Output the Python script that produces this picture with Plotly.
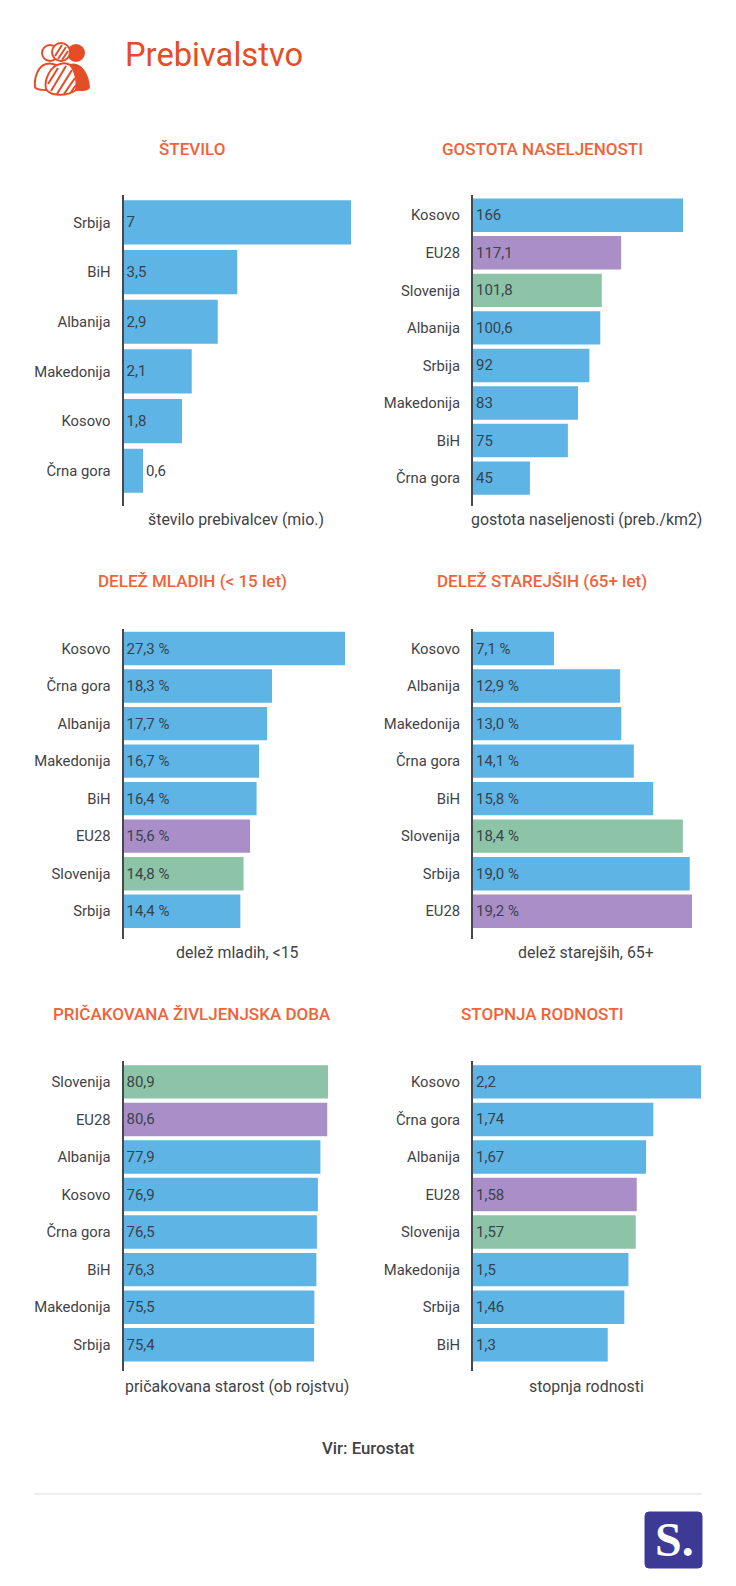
import plotly.graph_objects as go

W, H = 736, 1586
FONT = "Roboto"
BLUE, PURPLE, GREEN = "#5db4e5", "#aa8ec8", "#8dc3a7"
ORANGE = "#f0633a"
DARK = "#e44d26"
TEXT = "#3f4348"

# ---------- data ----------
stevilo_names = ["Srbija", "BiH", "Albanija", "Makedonija", "Kosovo", "Črna gora"]
stevilo_values = [7, 3.5, 2.9, 2.1, 1.8, 0.6]
stevilo_labels = ["7", "3,5", "2,9", "2,1", "1,8", "0,6"]

gostota_names = ["Kosovo", "EU28", "Slovenija", "Albanija", "Srbija", "Makedonija", "BiH", "Črna gora"]
gostota_values = [166, 117.1, 101.8, 100.6, 92, 83, 75, 45]
gostota_labels = ["166", "117,1", "101,8", "100,6", "92", "83", "75", "45"]

mladi_names = ["Kosovo", "Črna gora", "Albanija", "Makedonija", "BiH", "EU28", "Slovenija", "Srbija"]
mladi_values = [27.3, 18.3, 17.7, 16.7, 16.4, 15.6, 14.8, 14.4]
mladi_labels = ["27,3 %", "18,3 %", "17,7 %", "16,7 %", "16,4 %", "15,6 %", "14,8 %", "14,4 %"]

starejsi_names = ["Kosovo", "Albanija", "Makedonija", "Črna gora", "BiH", "Slovenija", "Srbija", "EU28"]
starejsi_values = [7.1, 12.9, 13.0, 14.1, 15.8, 18.4, 19.0, 19.2]
starejsi_labels = ["7,1 %", "12,9 %", "13,0 %", "14,1 %", "15,8 %", "18,4 %", "19,0 %", "19,2 %"]

doba_names = ["Slovenija", "EU28", "Albanija", "Kosovo", "Črna gora", "BiH", "Makedonija", "Srbija"]
doba_values = [80.9, 80.6, 77.9, 76.9, 76.5, 76.3, 75.5, 75.4]
doba_labels = ["80,9", "80,6", "77,9", "76,9", "76,5", "76,3", "75,5", "75,4"]

rodnost_names = ["Kosovo", "Črna gora", "Albanija", "EU28", "Slovenija", "Makedonija", "Srbija", "BiH"]
rodnost_values = [2.2, 1.74, 1.67, 1.58, 1.57, 1.5, 1.46, 1.3]
rodnost_labels = ["2,2", "1,74", "1,67", "1,58", "1,57", "1,5", "1,46", "1,3"]

panels = [
    ("ŠTEVILO", "število prebivalcev (mio.)", stevilo_names, stevilo_values, stevilo_labels, 123.5, 351, 195, 505.5, [5.70, -0.553], 192, 149, 519, 236),
    ("GOSTOTA NASELJENOSTI", "gostota naseljenosti (preb./km2)", gostota_names, gostota_values, gostota_labels, 473, 683, 195, 505.5, [7.73, -0.54], 542, 149, 519, 586),
    ("DELEŽ MLADIH (< 15 let)", "delež mladih, <15", mladi_names, mladi_values, mladi_labels, 123.5, 345, 629, 939, [7.74, -0.52], 192, 581, 952, 237),
    ("DELEŽ STAREJŠIH (65+ let)", "delež starejših, 65+", starejsi_names, starejsi_values, starejsi_labels, 473, 692, 629, 939, [7.74, -0.52], 542, 581, 952, 586),
    ("PRIČAKOVANA ŽIVLJENJSKA DOBA", "pričakovana starost (ob rojstvu)", doba_names, doba_values, doba_labels, 123.5, 328, 1060.5, 1371, [7.70, -0.57], 192, 1014, 1386, 237),
    ("STOPNJA RODNOSTI", "stopnja rodnosti", rodnost_names, rodnost_values, rodnost_labels, 473, 701, 1060.5, 1371, [7.70, -0.57], 542, 1014, 1386, 586),
]


# ---------- helpers ----------
def px(x):
    return x / W


def py(y):
    return 1 - y / H


def bar_color(name):
    return {"EU28": PURPLE, "Slovenija": GREEN}.get(name, BLUE)


def text_at(x, y, text, size, color=TEXT, weight=400, anchor="center", family=FONT):
    fig.add_annotation(
        x=px(x), y=py(y), xref="paper", yref="paper", text=text, showarrow=False,
        xanchor=anchor, yanchor="middle",
        font=dict(family=family, size=size, color=color, weight=weight),
    )


def path_in_px(cmds):
    """cmds: list of (letter, x, y, ...) in pixels, turned into paper coordinates"""
    out = []
    for c in cmds:
        nums = c[1:]
        pts = [f"{px(nums[i])},{py(nums[i + 1])}" for i in range(0, len(nums), 2)]
        out.append(c[0] + " ".join(pts))
    return " ".join(out)


def add_path(cmds, fill="rgba(0,0,0,0)", line=DARK, width=2):
    fig.add_shape(
        type="path", xref="paper", yref="paper", path=path_in_px(cmds),
        fillcolor=fill, line=dict(color=line, width=width),
    )


def add_circle(cx, cy, r, fill="white", line=DARK, width=2):
    fig.add_shape(
        type="circle", xref="paper", yref="paper",
        x0=px(cx - r), x1=px(cx + r), y0=py(cy + r), y1=py(cy - r),
        fillcolor=fill, line=dict(color=line, width=width),
    )


# ---------- figure ----------
fig = go.Figure()

for i, p in enumerate(panels):
    title, caption, names, values, labels, x0, x1, y0, y1, yrange, tx, ty, cy, ccx = p
    n = len(names)
    suffix = "" if i == 0 else str(i + 1)
    fig.add_trace(go.Bar(
        x=values, y=list(range(n)), orientation="h", text=labels,
        marker=dict(color=[bar_color(s) for s in names], line_width=0),
        textposition=["outside" if v / max(values) < 0.1 else "inside" for v in values],
        insidetextanchor="start", textangle=0, constraintext="none", cliponaxis=False,
        textfont=dict(family=FONT, size=15, color="#39434b"),
        width=0.89, xaxis="x" + suffix, yaxis="y" + suffix, showlegend=False,
    ))
    fig.layout["xaxis" + suffix] = dict(
        domain=[px(x0), px(x1)], range=[0, max(values)], visible=False,
        anchor="y" + suffix, fixedrange=True,
    )
    fig.layout["yaxis" + suffix] = dict(
        domain=[py(y1), py(y0)], range=yrange, anchor="x" + suffix,
        tickmode="array", tickvals=list(range(n)), ticktext=names,
        tickfont=dict(family=FONT, size=14.8, color=TEXT),
        ticks="outside", ticklen=8, tickcolor="rgba(0,0,0,0)",
        showline=True, linecolor="#45484c", linewidth=2, showgrid=False, zeroline=False,
        fixedrange=True,
    )
    text_at(tx, ty, title, 17, ORANGE, 500)
    text_at(ccx, cy, caption, 15.9)

text_at(123, 55, "Prebivalstvo", 32.7, DARK, anchor="left")
text_at(368, 1448, "Vir: Eurostat", 16.8, weight=500)

# icon: bodies first, then heads
add_path([("M", 70, 65), ("C", 82, 62, 88, 76, 89, 87), ("C", 88, 91, 80, 90, 74, 90), ("Z",)], fill=DARK)
add_path([("M", 46, 64), ("C", 38, 66, 34, 78, 35, 87), ("C", 36, 90, 42, 90, 48, 90), ("C", 52, 78, 52, 68, 56, 65), ("C", 52, 63, 49, 63, 46, 64), ("Z",)], fill="white")
add_path([("M", 60, 64), ("C", 50, 66, 44, 80, 46, 89), ("C", 50, 96, 66, 97, 76, 90), ("C", 78, 80, 74, 66, 68, 64), ("C", 65, 63, 63, 63, 60, 64), ("Z",)], fill="white")
for a, b, c, d in [(48, 84, 58, 68), (51, 91, 66, 66), (57, 94, 72, 70), (64, 94, 75, 78), (71, 92, 76, 85)]:
    add_path([("M", a, b), ("L", c, d)], width=2)
add_circle(76, 53, 8, fill=DARK)
add_circle(50, 53, 8)
add_circle(61, 52, 9)
for a, b, c, d in [(55, 56, 62, 45), (58, 59, 66, 47), (62, 60, 68, 51)]:
    add_path([("M", a, b), ("L", c, d)], width=2)

# footer
fig.add_shape(type="line", xref="paper", yref="paper", x0=px(34), x1=px(702), y0=py(1494), y1=py(1494),
              line=dict(color="#dcdfe3", width=1))
add_path([("M", 649, 1512), ("L", 698, 1512), ("Q", 702, 1512, 702, 1516), ("L", 702, 1564), ("Q", 702, 1568, 698, 1568),
          ("L", 649, 1568), ("Q", 645, 1568, 645, 1564), ("L", 645, 1516), ("Q", 645, 1512, 649, 1512), ("Z",)],
         fill="#3d3a96", line="#3d3a96", width=1)
text_at(674, 1539, "<b>S.</b>", 48, "white", family="Liberation Serif")

fig.update_layout(
    width=W, height=H, margin=dict(l=0, r=0, t=0, b=0),
    paper_bgcolor="white", plot_bgcolor="white", bargap=0.1,
)
fig.write_html("out.html", config=dict(displayModeBar=False), post_script="document.body.style.margin='0';")
